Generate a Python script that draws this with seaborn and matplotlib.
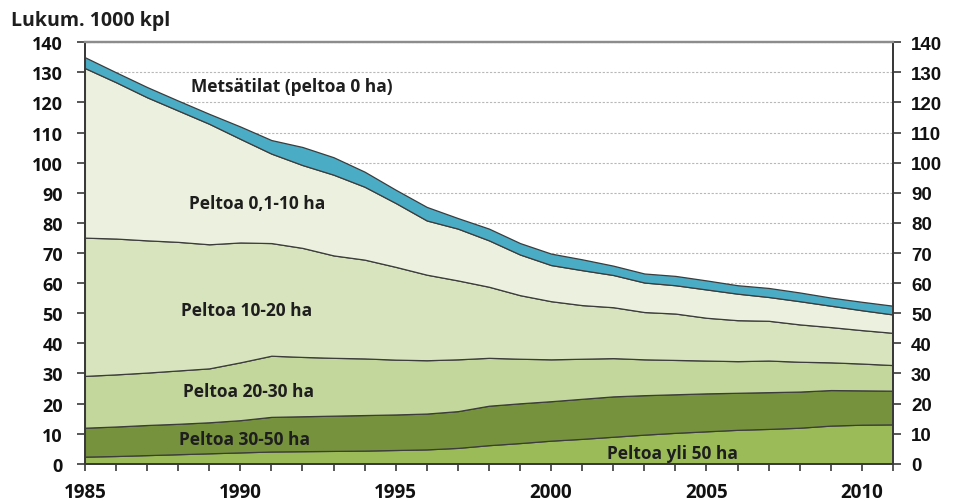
"""Tilojen lukumäärä peltoalan mukaan 1985-2011 (pinottu aluekaavio)."""

import matplotlib
import numpy as np
import seaborn as sns

matplotlib.use("Agg")
import matplotlib.pyplot as plt  # noqa: E402
from matplotlib.ticker import MultipleLocator  # noqa: E402

sns.set_theme(style="white")
plt.rcParams["font.family"] = ["Open Sans", "DejaVu Sans"]

YEARS = list(range(1985, 2012))

# 1000 tilaa, luettu kuvasta (alhaalta ylös)
YLI_50 = [2.4, 2.6, 2.9, 3.2, 3.5, 3.8, 4.1, 4.2, 4.3, 4.4, 4.6, 4.8, 5.3, 6.2,
          6.9, 7.7, 8.3, 9.0, 9.7, 10.3, 10.8, 11.3, 11.6, 12.0, 12.7, 13.0, 13.1]
HA_30_50 = [9.6, 9.8, 10.0, 10.1, 10.3, 10.7, 11.5, 11.6, 11.7, 11.8, 11.8, 11.9,
            12.2, 13.1, 13.2, 13.1, 13.3, 13.4, 13.1, 12.8, 12.6, 12.3, 12.2,
            12.0, 11.8, 11.4, 11.2]
HA_20_30 = [17.2, 17.3, 17.4, 17.7, 17.9, 19.2, 20.3, 19.7, 19.2, 18.8, 18.2,
            17.7, 17.2, 15.9, 14.8, 13.9, 13.3, 12.7, 11.9, 11.4, 10.9, 10.5,
            10.5, 9.9, 9.2, 8.9, 8.5]
HA_10_20 = [45.9, 45.1, 43.9, 42.7, 41.2, 39.8, 37.4, 36.2, 34.0, 32.8, 30.8,
            28.4, 26.2, 23.6, 21.1, 19.3, 17.8, 16.9, 15.7, 15.4, 14.2, 13.6,
            13.2, 12.4, 11.7, 11.1, 10.7]
HA_01_10 = [56.3, 51.9, 47.5, 43.6, 40.0, 34.4, 29.7, 27.5, 26.8, 24.2, 21.2,
            18.0, 17.2, 15.4, 13.5, 12.0, 11.6, 10.7, 9.8, 9.4, 9.4, 8.8, 7.9,
            7.7, 7.1, 6.6, 6.1]
METSA = [3.6, 3.3, 3.4, 3.3, 3.3, 4.1, 4.5, 6.0, 5.8, 5.0, 4.4, 4.5, 3.5, 3.9,
         3.8, 3.8, 3.6, 3.1, 3.0, 3.1, 3.0, 2.8, 3.0, 2.9, 2.7, 2.8, 2.9]

SERIES = [YLI_50, HA_30_50, HA_20_30, HA_10_20, HA_01_10, METSA]
COLORS = ["#9BBB59", "#76923C", "#C3D69B", "#D7E4BD", "#EBF1DE", "#4BACC6"]

LABELS = ["Peltoa yli 50 ha", "Peltoa 30-50 ha", "Peltoa 20-30 ha",
          "Peltoa 10-20 ha", "Peltoa 0,1-10 ha", "Metsätilat (peltoa 0 ha)"]
LABEL_POS = [(2003.9, 3.6), (1990.15, 8.3), (1990.25, 24.3),
             (1990.2, 51.2), (1990.55, 86.6), (1991.65, 125.4)]

fig = plt.figure(figsize=(9.54, 5.02), dpi=100)
ax = fig.add_axes([0.089, 0.074, 0.847, 0.840])

ax.yaxis.grid(True, linestyle=(0, (2, 1.5)), color="#b8b8b8", linewidth=0.8)
ax.set_axisbelow(True)

ax.stackplot(YEARS, *SERIES, colors=COLORS, edgecolor="#3c3c3c",
             linewidth=0.9, zorder=2)

for text, (x, y) in zip(LABELS, LABEL_POS):
    ax.text(x, y, text, ha="center", va="center", fontsize=12.5,
            fontweight="bold", color="#1e1e1e", zorder=3)

ax.set_xlim(1985, 2011)
ax.set_ylim(0, 140)
ax.xaxis.set_major_locator(MultipleLocator(5))
ax.xaxis.set_minor_locator(MultipleLocator(1))
ax.yaxis.set_major_locator(MultipleLocator(10))

ax2 = ax.twinx()
ax2.set_ylim(0, 140)
ax2.yaxis.set_major_locator(MultipleLocator(10))

for a in (ax, ax2):
    for side in ("left", "right", "bottom"):
        a.spines[side].set_color("#3a3a3a")
        a.spines[side].set_linewidth(1.4)
    a.spines["top"].set_color("#8c8c8c")
    a.spines["top"].set_linewidth(1.6)

ax.tick_params(axis="y", which="major", left=True, length=6, width=1.2,
               color="#3a3a3a", pad=10, labelsize=13, labelcolor="#111111")
ax.tick_params(axis="x", which="both", bottom=True, length=5, width=1.2,
               color="#3a3a3a", direction="out")
ax.tick_params(axis="x", which="major", pad=8, labelsize=13.5,
               labelcolor="#111111")
ax2.tick_params(axis="y", which="major", right=True, length=6, width=1.2,
                color="#3a3a3a", pad=7, labelsize=13.5, labelcolor="#111111")

for lab in ax.get_yticklabels() + ax.get_xticklabels():
    lab.set_fontweight("bold")
for lab in ax2.get_yticklabels():
    lab.set_fontweight("bold")
    lab.set_family(["Liberation Sans", "DejaVu Sans"])

fig.text(0.012, 0.948, "Lukum. 1000 kpl", fontsize=14, fontweight="bold",
         color="#1e1e1e", ha="left", va="baseline")

fig.savefig("out.png", dpi=100)
plt.close(fig)
